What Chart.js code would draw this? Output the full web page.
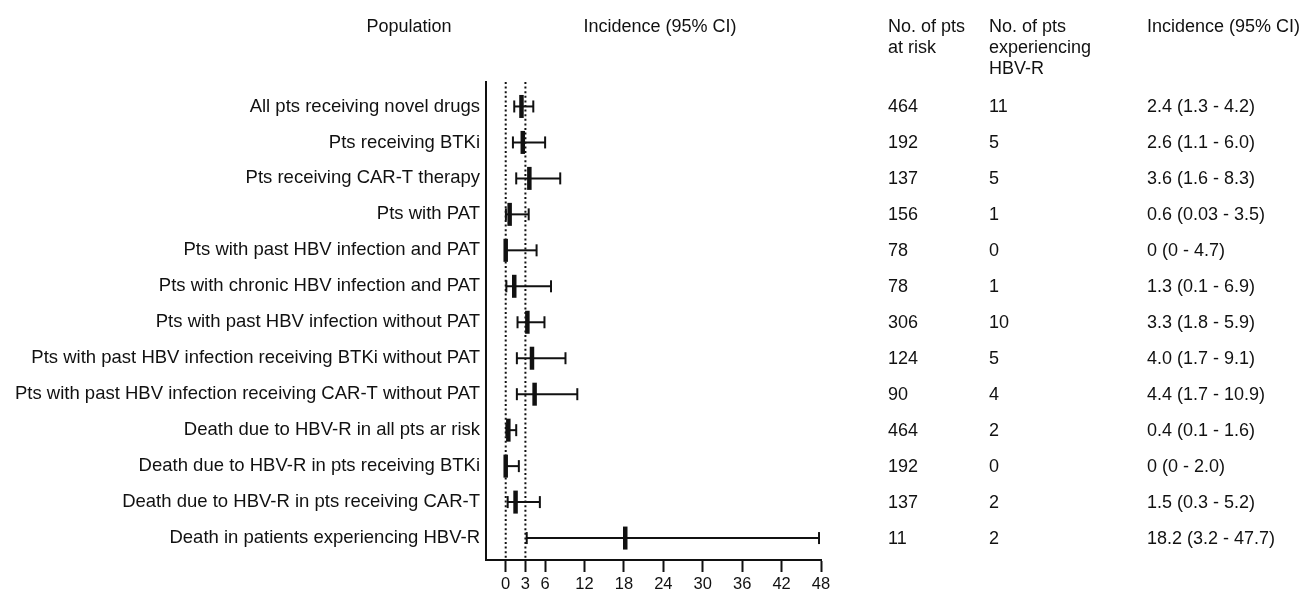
<!DOCTYPE html>
<html>
<head>
<meta charset="utf-8">
<script src="https://cdn.jsdelivr.net/npm/chart.js@4.4.0/dist/chart.umd.min.js"></script>
<style>
  html, body { margin: 0; padding: 0; background: #fff; }
  #wrap { width: 1301px; height: 594px; }
</style>
</head>
<body>
<div id="wrap"><canvas id="forest"></canvas></div>
<script>
const populations = [
  'All pts receiving novel drugs',
  'Pts receiving BTKi',
  'Pts receiving CAR-T therapy',
  'Pts with PAT',
  'Pts with past HBV infection and PAT',
  'Pts with chronic HBV infection and PAT',
  'Pts with past HBV infection without PAT',
  'Pts with past HBV infection receiving BTKi without PAT',
  'Pts with past HBV infection receiving CAR-T without PAT',
  'Death due to HBV-R in all pts ar risk',
  'Death due to HBV-R in pts receiving BTKi',
  'Death due to HBV-R in pts receiving CAR-T',
  'Death in patients experiencing HBV-R'
];
const ptsAtRisk = [464, 192, 137, 156, 78, 78, 306, 124, 90, 464, 192, 137, 11];
const ptsHbvR = [11, 5, 5, 1, 0, 1, 10, 5, 4, 2, 0, 2, 2];
const incidence = [2.4, 2.6, 3.6, 0.6, 0, 1.3, 3.3, 4.0, 4.4, 0.4, 0, 1.5, 18.2];
const ciLow = [1.3, 1.1, 1.6, 0.03, 0, 0.1, 1.8, 1.7, 1.7, 0.1, 0, 0.3, 3.2];
const ciHigh = [4.2, 6.0, 8.3, 3.5, 4.7, 6.9, 5.9, 9.1, 10.9, 1.6, 2.0, 5.2, 47.7];
const incidenceText = [
  '2.4 (1.3 - 4.2)', '2.6 (1.1 - 6.0)', '3.6 (1.6 - 8.3)', '0.6 (0.03 - 3.5)',
  '0 (0 - 4.7)', '1.3 (0.1 - 6.9)', '3.3 (1.8 - 5.9)', '4.0 (1.7 - 9.1)',
  '4.4 (1.7 - 10.9)', '0.4 (0.1 - 1.6)', '0 (0 - 2.0)', '1.5 (0.3 - 5.2)',
  '18.2 (3.2 - 47.7)'
];
const xTicks = [0, 3, 6, 12, 18, 24, 30, 36, 42, 48];
const refLines = [0, 3];

const yMin = -0.68, yMax = 12.61;
const FONT = 'Arial, "Liberation Sans", sans-serif';
const INK = '#111';

const datasets = [];

// point estimates
datasets.push({
  type: 'scatter',
  data: incidence.map((v, i) => ({ x: v, y: i })),
  pointStyle: 'line',
  rotation: 90,
  radius: 11.5,
  borderWidth: 4.5,
  borderColor: INK,
  backgroundColor: INK
});

// caps
const caps = [];
ciLow.forEach((v, i) => { caps.push({ x: v, y: i }); caps.push({ x: ciHigh[i], y: i }); });
datasets.push({
  type: 'scatter',
  data: caps,
  pointStyle: 'line',
  rotation: 90,
  radius: 6,
  borderWidth: 2,
  borderColor: INK,
  backgroundColor: INK
});

// whiskers
populations.forEach((p, i) => {
  datasets.push({
    type: 'line',
    data: [{ x: ciLow[i], y: i }, { x: ciHigh[i], y: i }],
    borderColor: INK,
    borderWidth: 2,
    pointRadius: 0,
    fill: false
  });
});

// dotted reference lines
refLines.forEach(r => {
  datasets.push({
    type: 'line',
    data: [{ x: r, y: yMin }, { x: r, y: yMax }],
    borderColor: INK,
    borderWidth: 2,
    borderDash: [2, 2.6],
    pointRadius: 0,
    fill: false
  });
});

const tablePlugin = {
  id: 'tablePlugin',
  afterDraw(chart) {
    const ctx = chart.ctx;
    const y = chart.scales.y;
    ctx.save();
    ctx.fillStyle = INK;
    ctx.font = '18px ' + FONT;
    ctx.textBaseline = 'alphabetic';
    ctx.textAlign = 'center';
    ctx.fillText('Population', 409, 32);
    ctx.fillText('Incidence (95% CI)', 660, 32);
    ctx.textAlign = 'left';
    ctx.fillText('No. of pts', 888, 32);
    ctx.fillText('at risk', 888, 53);
    ctx.fillText('No. of pts', 989, 32);
    ctx.fillText('experiencing', 989, 53);
    ctx.fillText('HBV-R', 989, 74);
    ctx.fillText('Incidence (95% CI)', 1147, 32);
    ctx.textBaseline = 'middle';
    populations.forEach((p, i) => {
      const py = y.getPixelForValue(i) + 1;
      ctx.fillText(String(ptsAtRisk[i]), 888, py);
      ctx.fillText(String(ptsHbvR[i]), 989, py);
      ctx.fillText(incidenceText[i], 1147, py);
    });
    ctx.restore();
  }
};

new Chart(document.getElementById('forest'), {
  data: { datasets: datasets },
  options: {
    responsive: true,
    maintainAspectRatio: false,
    animation: false,
    layout: { padding: { left: 0, right: 480, top: 82, bottom: 0 } },
    plugins: { legend: { display: false }, tooltip: { enabled: false } },
    scales: {
      x: {
        type: 'linear',
        min: -3,
        max: 48,
        afterBuildTicks: axis => { axis.ticks = xTicks.map(v => ({ value: v })); },
        afterFit: axis => { axis.height = 34; },
        grid: { drawOnChartArea: false, drawTicks: true, tickLength: 12, tickWidth: 2, tickColor: INK },
        border: { display: true, color: INK, width: 2 },
        ticks: { color: INK, font: { size: 16.5, family: FONT }, padding: 3, maxRotation: 0, autoSkip: false }
      },
      y: {
        type: 'linear',
        reverse: true,
        min: yMin,
        max: yMax,
        afterBuildTicks: axis => { axis.ticks = populations.map((p, i) => ({ value: i })); },
        afterFit: axis => { axis.width = 486; },
        grid: { display: false, drawTicks: false },
        border: { display: true, color: INK, width: 2 },
        ticks: {
          color: INK,
          font: { size: 18.5, family: FONT },
          padding: 6,
          autoSkip: false,
          callback: v => populations[v]
        }
      }
    }
  },
  plugins: [tablePlugin]
});
</script>
</body>
</html>
